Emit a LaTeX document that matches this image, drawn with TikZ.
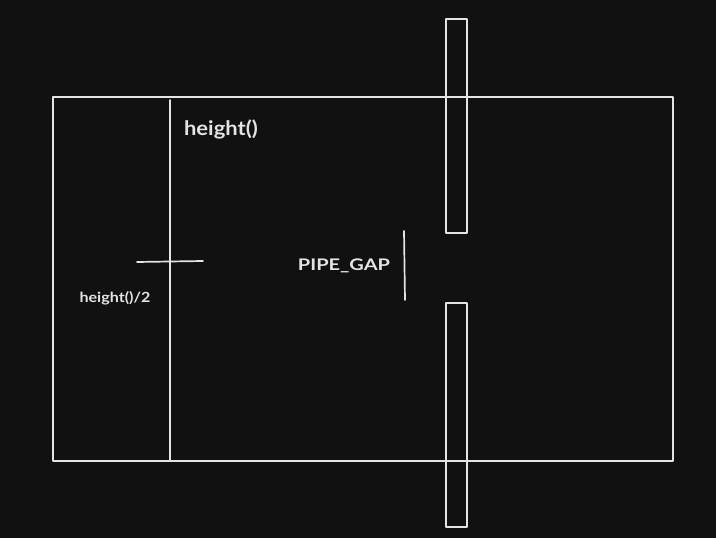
\documentclass[tikz,border=0pt]{standalone}
\usepackage{fontspec}
\setmainfont{Lato}
\definecolor{board}{HTML}{111111}
\definecolor{chalk}{HTML}{E4E4E4}

\begin{document}
\begin{tikzpicture}[x=1pt, y=-1pt,
    line/.style={draw=chalk, line width=1.7pt, line cap=round, line join=round},
    label/.style={text=chalk, inner sep=0pt, font=\fontsize{20}{20}\selectfont\bfseries},
    small/.style={font=\fontsize{14}{14}\selectfont\bfseries},
    caps/.style={font=\fontsize{16}{16}\selectfont\bfseries}
]
\useasboundingbox[fill=board] (0,0) rectangle (716,538);
%% ============================================================
%% SCREEN AND PIPES
%% ============================================================
\draw[line] (53,97) rectangle (673,461);
\draw[line] (446,19) rectangle (467,233);
\draw[line] (446,303) rectangle (467,527);
%% ============================================================
%% HEIGHT MARKER
%% ============================================================
\coordinate (htop) at (170,100);
\coordinate (hbot) at (170,460);
\coordinate (hmidL) at (137,262);
\coordinate (hmidR) at (203,261);
\draw[line] (htop) -- (hbot);
\draw[line] (hmidL) -- (hmidR);
\node[label] (height) at (221,129) {\scalebox{1.1}[1]{height()}};
\node[label, small] (half) at (115,298) {\scalebox{1.15}[1]{height()/2}};
%% ============================================================
%% PIPE GAP
%% ============================================================
\coordinate (gtop) at (404,231);
\coordinate (gbot) at (405,300);
\draw[line] (gtop) -- (gbot);
\node[label, caps] (gap) at (344,266) {\scalebox{1.25}[1]{PIPE\_GAP}};
\end{tikzpicture}
\end{document}
